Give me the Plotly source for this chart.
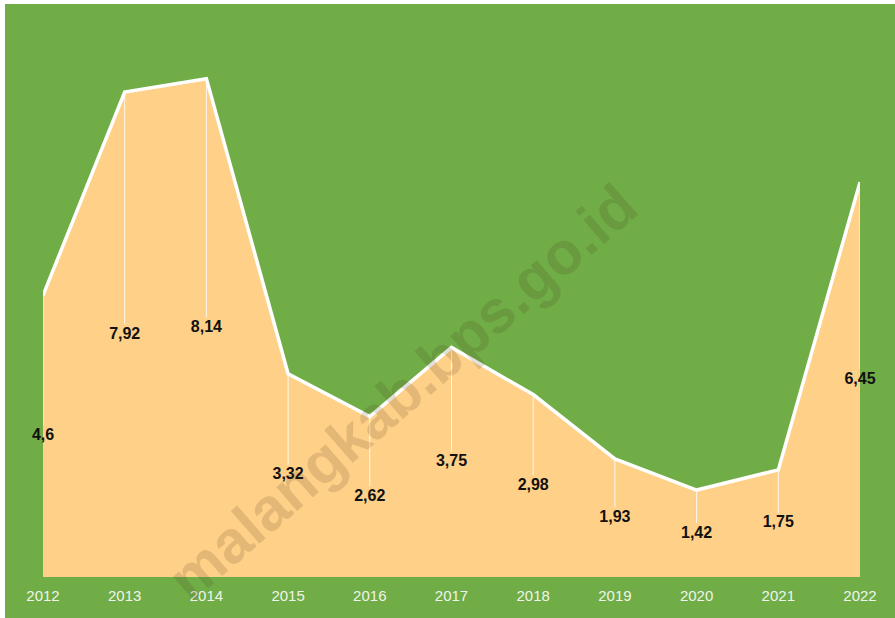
import plotly.graph_objects as go

years = [2012, 2013, 2014, 2015, 2016, 2017, 2018, 2019, 2020, 2021, 2022]
values = [4.6, 7.92, 8.14, 3.32, 2.62, 3.75, 2.98, 1.93, 1.42, 1.75, 6.45]
labels = [str(v).replace(".", ",") for v in values]

GREEN = "#70AD47"
PEACH = "#FFD088"

W, H = 895, 618
ML, MR, MT, MB = 43, 35, 26, 41
PW, PH = W - ML - MR, H - MT - MB

fig = go.Figure()

# area
fig.add_trace(go.Scatter(
    x=years, y=values, mode="lines", fill="tozeroy",
    fillcolor=PEACH, line=dict(color="white", width=3.5),
    hoverinfo="skip", showlegend=False,
))

# drop lines from point to label
lab_off = 0.17
dx, dy = [], []
for x, v in zip(years, values):
    dx += [x, x, None]
    dy += [v, v / 2 + lab_off, None]
fig.add_trace(go.Scatter(
    x=dx, y=dy, mode="lines",
    line=dict(color="rgba(255,255,255,0.85)", width=1),
    hoverinfo="skip", showlegend=False,
))

# data labels at center of area
fig.add_trace(go.Scatter(
    x=years, y=[v / 2 for v in values], mode="text", text=labels,
    textposition="middle center", cliponaxis=False,
    textfont=dict(family="Liberation Sans", size=16, color="#111111", weight="bold"),
    hoverinfo="skip", showlegend=False,
))

# watermark
fig.add_annotation(
    text="malangkab.bps.go.id", xref="paper", yref="paper",
    x=(402 - ML) / PW, y=(H - MB - 392) / PH, showarrow=False,
    textangle=-41, xanchor="center", yanchor="middle",
    font=dict(family="Liberation Sans", size=60, color="rgba(70,45,20,0.15)", weight="bold"),
)

# white border strips (left and top)
fig.add_shape(type="rect", xref="paper", yref="paper",
              x0=-ML / PW - 0.01, x1=(5 - ML) / PW, y0=-MB / PH - 0.01, y1=(H - MB) / PH + 0.01,
              fillcolor="white", line=dict(width=0), layer="above")
fig.add_shape(type="rect", xref="paper", yref="paper",
              x0=-ML / PW - 0.01, x1=1 + MR / PW + 0.01, y0=(H - MB - 4) / PH, y1=(H - MB) / PH + 0.01,
              fillcolor="white", line=dict(width=0), layer="above")

fig.update_layout(
    width=W, height=H,
    margin=dict(l=ML, r=MR, t=MT, b=MB),
    paper_bgcolor=GREEN, plot_bgcolor=GREEN,
    xaxis=dict(range=[2012, 2022], tickmode="array", tickvals=years,
               ticktext=[str(y) for y in years], showgrid=False, zeroline=False,
               showline=False, ticks="", ticklabelstandoff=8,
               tickfont=dict(family="Liberation Sans", size=15, color="#F0F4EC")),
    yaxis=dict(range=[0, 9], showgrid=False, zeroline=False, showticklabels=False,
               showline=False, ticks=""),
)

fig.write_html("out.html", config={"displayModeBar": False},
               post_script="document.body.style.margin='0';document.body.style.overflow='hidden';")
